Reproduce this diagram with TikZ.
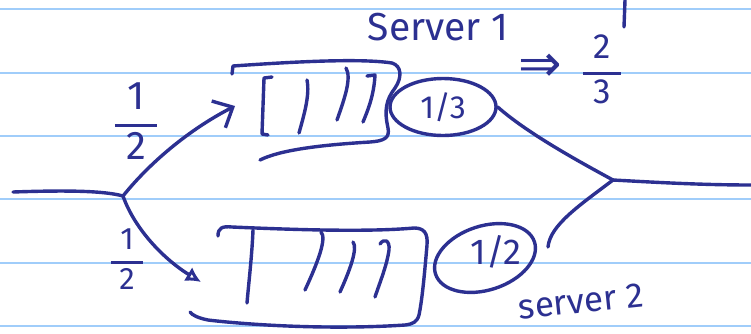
\documentclass[tikz,border=0pt]{standalone}
\usepackage{fontspec}
\setmainfont{Fira Sans}
\newfontfamily\arrowfont{DejaVu Sans}
\usetikzlibrary{arrows.meta,shapes.geometric}
\definecolor{ink}{RGB}{44,48,145}
\definecolor{paperrule}{RGB}{160,205,250}
% stacked fraction with a thick bar in the text font
\newcommand\handfrac[2]{{\setlength\arrayrulewidth{3pt}\renewcommand\arraystretch{1.08}%
  \begin{tabular}{@{\hspace{0.28em}}c@{\hspace{0.28em}}}#1\\\hline #2\end{tabular}}}
\begin{document}
\begin{tikzpicture}[x=1pt,y=-1pt,
  pen/.style={draw=ink,line width=3.4pt,line cap=round,line join=round},
  ink text/.style={text=ink,inner sep=0pt}]
\useasboundingbox (0,0) rectangle (751,333);
\fill[white] (0,0) rectangle (751,333);
% ruled paper
\foreach \y in {9.3,72.7,136,199.3,262.7,326}
  \draw[paperrule,line width=2pt] (0,\y) -- (751,\y);

% queue 1
\draw[pen] (232,74) -- (233,66) .. controls (290,62) and (360,58) .. (392,63)
  .. controls (402,66) and (402,78) .. (395,88)
  .. controls (386,100) and (384,110) .. (388,128)
  .. controls (390,138) and (384,141) .. (370,142)
  .. controls (320,145) and (280,150) .. (260,160);
\draw[pen] (272,77) -- (264,78) -- (262,134) -- (268,135);
\draw[pen] (307,80) .. controls (310,95) and (304,115) .. (299,133);
\draw[pen] (346,68) .. controls (352,78) and (344,100) .. (337,120);
\draw[pen] (367,76) -- (375,75) .. controls (374,95) and (368,110) .. (363,122);

% queue 2
\draw[pen] (218,236) .. controls (218,228) and (222,226) .. (232,227)
  .. controls (300,230) and (370,232) .. (414,228)
  .. controls (424,228) and (428,233) .. (427,245)
  .. controls (424,280) and (422,300) .. (419,315)
  .. controls (417,322) and (413,324) .. (405,325)
  .. controls (330,330) and (250,325) .. (208,320)
  .. controls (198,318) and (192,315) .. (190,312);
\draw[pen] (253,230) .. controls (252,255) and (249,280) .. (247,303);
\draw[pen] (321,232) .. controls (327,238) and (318,262) .. (305,290);
\draw[pen] (353,242) .. controls (358,248) and (350,270) .. (340,292);
\draw[pen] (380,244) .. controls (384,238) and (390,240) .. (389,250)
  .. controls (387,265) and (380,282) .. (375,297);

% servers
\node[pen,ellipse,minimum width=106pt,minimum height=57pt,inner sep=0pt,
  text=ink,font=\fontsize{32}{32}\selectfont] (s1) at (443,107) {1/3};
\node[pen,ellipse,rotate=18,minimum width=104pt,minimum height=64pt] (s2) at (485,258) {};
\node[ink text,font=\fontsize{36}{36}\selectfont] (s2t) at (496,252) {1/2};

% routing
\coordinate (in) at (13,192);
\coordinate (split) at (123,196);
\coordinate (q1in) at (235,106);
\coordinate (q2in) at (201,282);
\coordinate (merge) at (613,180);
\coordinate (out) at (751,185);
\coordinate (s2end) at (548,247);
\coordinate (tickA) at (625,0);
\coordinate (tickB) at (624,27);

\draw[pen] (in) .. controls (70,190) and (105,191) .. (split);
\draw[pen,-{Straight Barb[length=16pt,width=30pt]}] (split) .. controls (152,160) and (192,128) .. (q1in);
\draw[pen,-{Latex[open,length=15pt,width=16pt]}] (split) .. controls (135,230) and (165,260) .. (q2in);
\draw[pen] (merge) .. controls (578,161) and (527,133) .. (s1.east);
\draw[pen] (merge) .. controls (580,205) and (550,225) .. (s2end);
\draw[pen] (merge) .. controls (650,182) and (700,185) .. (out);
\draw[pen] (tickA) -- (tickB);

% labels
\node[ink text,font=\fontsize{39}{39}\selectfont,anchor=base] (srv1) at (438,40) {Server 1};
\node[ink text,font=\fontsize{35}{35}\selectfont,anchor=base,rotate=6] (srv2) at (582,313) {server 2};
\node[ink text,font=\fontsize{40}{44}\selectfont] (p1) at (136,125) {\handfrac{1}{2}};
\node[ink text,font=\fontsize{31}{35}\selectfont] (p2) at (127,262) {\handfrac{1}{2}};
\node[ink text,font=\fontsize{35}{39}\selectfont] (r) at (602,73) {\handfrac{2}{3}};
\node[ink text,font=\fontsize{52}{52}\arrowfont] (imp) at (540,68) {⇒};
\end{tikzpicture}
\end{document}
